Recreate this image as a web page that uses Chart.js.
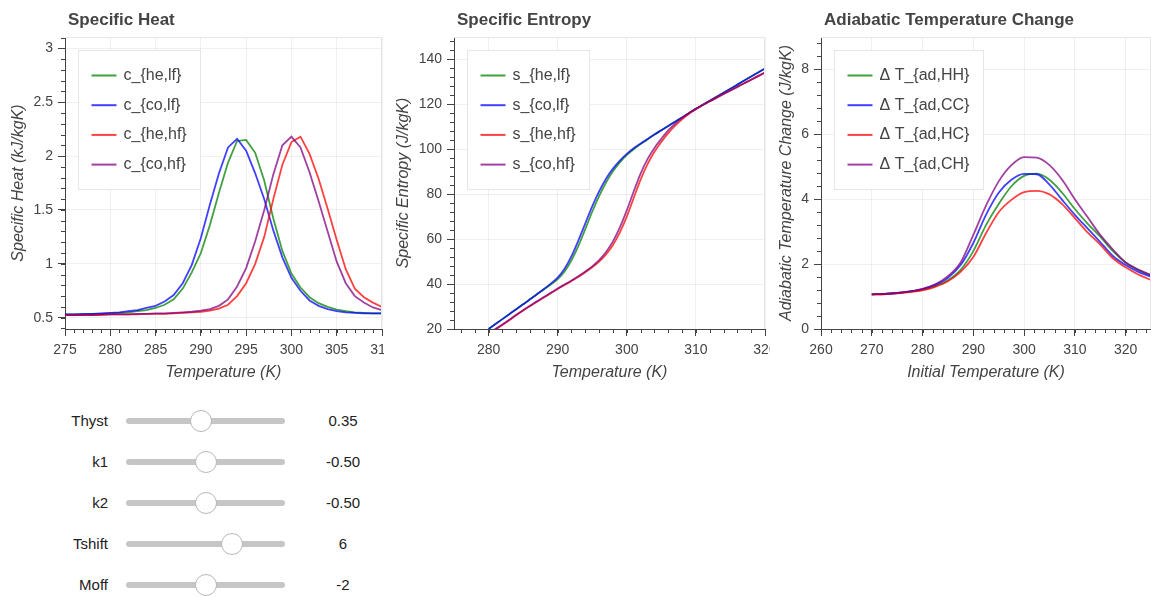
<!DOCTYPE html>
<html>
<head>
<meta charset="utf-8">
<script src="https://cdn.jsdelivr.net/npm/chart.js@4.4.1/dist/chart.umd.min.js"></script>
<style>
  body { margin: 0; background: #fff; font-family: "Liberation Sans", Arial, sans-serif; }
  #wrap { position: relative; width: 1151px; height: 597px; overflow: hidden; }
  canvas { position: absolute; top: 0; }
  .row { position: absolute; left: 0; width: 400px; height: 24px; }
  .row label { position: absolute; left: 0; width: 108px; top: 3px; text-align: right; font-size: 15px; color: #222; }
  .row span { position: absolute; left: 303px; width: 80px; top: 3px; text-align: center; font-size: 15px; color: #222; }
  .row input {
    position: absolute; left: 126px; top: 9px; width: 159px; height: 6px; margin: 0;
    -webkit-appearance: none; appearance: none; background: #c6c6c6; border-radius: 3px; outline: none;
  }
  .row input::-webkit-slider-thumb {
    -webkit-appearance: none; appearance: none; width: 22px; height: 22px; border-radius: 50%;
    background: #fff; border: 1px solid #b8b8b8; box-sizing: border-box;
  }
</style>
</head>
<body>
<div id="wrap">
  <canvas id="heat" width="384" height="390" style="left:0"></canvas>
  <canvas id="entropy" width="386" height="390" style="left:384px"></canvas>
  <canvas id="adiabatic" width="381" height="390" style="left:770px"></canvas>
  <div id="sliders"></div>
</div>
<script>
Chart.defaults.font.family = '"Liberation Sans", Arial, sans-serif';
Chart.defaults.color = '#444';

const lineColors = ['rgba(0,128,0,0.75)', 'rgba(0,0,255,0.75)', 'rgba(255,0,0,0.75)', 'rgba(128,0,128,0.75)'];

// ---- Specific heat (kJ/kgK) ----
const heatTemps = [275, 276, 277, 278, 279, 280, 281, 282, 283, 284, 285, 286, 287, 288, 289, 290, 291, 292,
                   293, 294, 295, 296, 297, 298, 299, 300, 301, 302, 303, 304, 305, 306, 307, 308, 309, 310];
const heatLabels = ['c_{he,lf}', 'c_{co,lf}', 'c_{he,hf}', 'c_{co,hf}'];
const cHeLf = [0.53, 0.53, 0.53, 0.535, 0.535, 0.54, 0.545, 0.55, 0.56, 0.57, 0.59, 0.62, 0.67, 0.77, 0.92, 1.10, 1.36, 1.66,
               1.94, 2.14, 2.15, 2.03, 1.77, 1.42, 1.12, 0.91, 0.78, 0.69, 0.635, 0.60, 0.575, 0.56, 0.55, 0.545, 0.54, 0.54];
const cCoLf = [0.53, 0.53, 0.535, 0.535, 0.54, 0.545, 0.55, 0.56, 0.57, 0.59, 0.61, 0.65, 0.71, 0.82, 0.99, 1.24, 1.55, 1.84,
               2.08, 2.16, 2.05, 1.84, 1.60, 1.31, 1.06, 0.87, 0.75, 0.66, 0.61, 0.58, 0.56, 0.55, 0.545, 0.54, 0.54, 0.54];
const cHeHf = [0.525, 0.525, 0.525, 0.525, 0.525, 0.53, 0.53, 0.53, 0.53, 0.535, 0.535, 0.535, 0.54, 0.545, 0.55, 0.555, 0.565, 0.585,
               0.62, 0.70, 0.82, 1.00, 1.25, 1.60, 1.92, 2.13, 2.18, 2.02, 1.79, 1.51, 1.22, 0.95, 0.77, 0.69, 0.64, 0.60];
const cCoHf = [0.525, 0.525, 0.525, 0.525, 0.53, 0.53, 0.53, 0.53, 0.535, 0.535, 0.54, 0.54, 0.545, 0.55, 0.555, 0.565, 0.58, 0.61,
               0.67, 0.79, 0.96, 1.21, 1.50, 1.83, 2.10, 2.18, 2.08, 1.85, 1.58, 1.30, 1.02, 0.82, 0.70, 0.64, 0.595, 0.57];
const heatXTicks = [275, 280, 285, 290, 295, 300, 305, 310];
const heatYTicks = [0.5, 1, 1.5, 2, 2.5, 3];

// ---- Specific entropy (J/kgK) ----
const entTemps = [280, 281, 282, 283, 284, 285, 286, 287, 288, 289, 290, 291, 292, 293, 294, 295, 296, 297, 298, 299, 300,
                  301, 302, 303, 304, 305, 306, 307, 308, 309, 310, 311, 312, 313, 314, 315, 316, 317, 318, 319, 320];
const entLabels = ['s_{he,lf}', 's_{co,lf}', 's_{he,hf}', 's_{co,hf}'];
const sHeLf = [20, 22.2, 24.4, 26.6, 28.8, 31, 33.2, 35.5, 37.6, 39.8, 42.2, 45.6, 50.6, 57, 64.5, 72.2, 79.2, 85.2, 90.2, 94.2, 97.4,
               100, 102.3, 104.4, 106.6, 108.5, 110.4, 112.3, 114.2, 116.1, 118, 119.8, 121.6, 123.4, 125.2, 127, 128.8, 130.6, 132.4, 134.2, 136];
const sCoLf = [20, 22.2, 24.4, 26.6, 28.8, 31, 33.2, 35.5, 37.8, 40.2, 42.9, 46.8, 52.4, 59.4, 67, 74.6, 81.3, 86.9, 91.4, 95, 98,
               100.5, 102.6, 104.6, 106.6, 108.5, 110.4, 112.3, 114.2, 116.1, 118, 119.8, 121.6, 123.4, 125.2, 127, 128.8, 130.6, 132.4, 134.2, 136];
const sHeHf = [17.8, 19.8, 21.8, 23.9, 26.1, 28.2, 30.2, 32.1, 34, 35.9, 37.8, 39.6, 41.4, 43.3, 45.3, 47.5, 50, 53.2, 57.4, 63, 70,
               78.3, 86.5, 93.4, 98.9, 103.3, 107.2, 110.5, 113.3, 115.8, 117.9, 119.7, 121.4, 123, 124.6, 126.2, 127.8, 129.4, 131, 132.6, 134.2];
const sCoHf = [18, 20, 22, 24.1, 26.3, 28.4, 30.4, 32.3, 34.2, 36.1, 38, 39.8, 41.6, 43.5, 45.6, 47.9, 50.7, 54.3, 59, 65.2, 72.8,
               81.2, 89.2, 95.6, 100.6, 104.7, 108.4, 111.4, 114, 116.2, 118, 119.7, 121.4, 123, 124.6, 126.2, 127.8, 129.4, 131, 132.6, 134.2];
const entXTicks = [280, 290, 300, 310, 320];
const entYTicks = [20, 40, 60, 80, 100, 120, 140];

// ---- Adiabatic temperature change ----
const adTemps = [270, 272.5, 275, 277.5, 280, 282.5, 285, 287.5, 290, 292.5, 295, 297.5, 300,
                 302.5, 305, 307.5, 310, 312.5, 315, 317.5, 320, 322.5, 325];
const adLabels = ['Δ T_{ad,HH}', 'Δ T_{ad,CC}', 'Δ T_{ad,HC}', 'Δ T_{ad,CH}'];
const dtHH = [1.07, 1.08, 1.11, 1.15, 1.21, 1.32, 1.50, 1.82, 2.40, 3.20, 3.85, 4.40, 4.72,
              4.79, 4.60, 4.20, 3.70, 3.25, 2.85, 2.40, 2.05, 1.82, 1.66];
const dtCC = [1.07, 1.08, 1.11, 1.16, 1.23, 1.36, 1.58, 1.97, 2.65, 3.52, 4.20, 4.60, 4.78,
              4.77, 4.45, 3.98, 3.52, 3.10, 2.68, 2.25, 1.97, 1.76, 1.61];
const dtHC = [1.06, 1.07, 1.10, 1.14, 1.19, 1.30, 1.47, 1.76, 2.22, 2.95, 3.60, 3.98, 4.22,
              4.26, 4.15, 3.85, 3.42, 2.98, 2.60, 2.18, 1.90, 1.68, 1.51];
const dtCH = [1.07, 1.08, 1.11, 1.16, 1.24, 1.38, 1.63, 2.05, 2.90, 3.80, 4.55, 5.05, 5.30,
              5.28, 5.05, 4.60, 4.00, 3.45, 2.90, 2.45, 2.05, 1.83, 1.66];
const adXTicks = [260, 270, 280, 290, 300, 310, 320];
const adYTicks = [0, 2, 4, 6, 8];

// ---- sliders ----
const sliderNames = ['Thyst', 'k1', 'k2', 'Tshift', 'Moff'];
const sliderValues = [0.35, -0.5, -0.5, 6, -2];
const sliderMins = [0, -1, -1, -3, -4];
const sliderMaxs = [0.75, 0, 0, 10, 0];
const sliderSteps = [0.01, 0.01, 0.01, 1, 1];
const sliderText = ['0.35', '-0.50', '-0.50', '6', '-2'];

const FONT = '"Liberation Sans", Arial, sans-serif';

// frame, minor ticks, panel title and an inset legend
const panelDecor = {
  id: 'panelDecor',
  afterDraw(chart, args, o) {
    const {ctx, chartArea: a} = chart;
    const xs = chart.scales.x, ys = chart.scales.y;
    ctx.save();
    ctx.lineWidth = 1;
    ctx.strokeStyle = '#e6e6e6';
    ctx.beginPath();
    ctx.moveTo(a.left, a.top + 0.5);
    ctx.lineTo(a.right - 0.5, a.top + 0.5);
    ctx.lineTo(a.right - 0.5, a.bottom);
    ctx.stroke();

    ctx.strokeStyle = '#444';
    ctx.beginPath();
    for (let v = Math.ceil(xs.min / o.xMinor - 1e-6) * o.xMinor; v <= xs.max + 1e-6; v += o.xMinor) {
      const px = Math.round(xs.getPixelForValue(v)) + 0.5;
      ctx.moveTo(px, a.bottom); ctx.lineTo(px, a.bottom + 4);
    }
    for (let v = Math.ceil(ys.min / o.yMinor - 1e-6) * o.yMinor; v <= ys.max + 1e-6; v += o.yMinor) {
      const py = Math.round(ys.getPixelForValue(v)) + 0.5;
      ctx.moveTo(a.left, py); ctx.lineTo(a.left - 4, py);
    }
    ctx.stroke();

    ctx.fillStyle = '#444';
    ctx.textBaseline = 'middle';
    ctx.textAlign = 'left';
    ctx.font = 'bold 17px ' + FONT;
    ctx.fillText(o.title, a.left + 3, 20);

    ctx.font = '16px ' + FONT;
    const sets = chart.data.datasets;
    const tw = Math.max(...sets.map(d => ctx.measureText(d.label).width));
    const bx = Math.round(a.left + 13) + 0.5, by = Math.round(a.top + 13) + 0.5;
    const bw = Math.round(13 + 25 + 7 + tw + 14), bh = 139;
    ctx.fillStyle = 'rgba(255,255,255,0.95)';
    ctx.fillRect(bx, by, bw, bh);
    ctx.strokeStyle = '#e6e6e6';
    ctx.strokeRect(bx, by, bw, bh);
    sets.forEach((d, i) => {
      const ly = by + 25 + i * 29.7;
      ctx.strokeStyle = d.borderColor;
      ctx.lineWidth = 2;
      ctx.beginPath(); ctx.moveTo(bx + 13, ly); ctx.lineTo(bx + 38, ly); ctx.stroke();
      ctx.fillStyle = '#444';
      ctx.fillText(d.label, bx + 45, ly);
    });
    ctx.restore();
  }
};

function xAxis(p) {
  return {
    type: 'linear', min: p.xMin, max: p.xMax,
    afterBuildTicks: s => { s.ticks = p.xTicks.map(v => ({value: v})); },
    afterFit: s => { s.height = 61; s.paddingLeft = 0; s.paddingRight = 0; },
    ticks: {color: '#444', font: {size: 14}, padding: 6, maxRotation: 0, autoSkip: false, callback: v => String(v)},
    grid: {color: 'rgba(0,0,0,0.06)', tickColor: '#444', tickLength: 7},
    border: {color: '#444', width: 1},
    title: {display: true, text: p.xTitle, color: '#444', font: {size: 16, style: 'italic'}, padding: {top: 0, bottom: 8}}
  };
}

function yAxis(p) {
  return {
    type: 'linear', min: p.yMin, max: p.yMax,
    afterBuildTicks: s => { s.ticks = p.yTicks.map(v => ({value: v})); },
    afterFit: s => { s.width = p.plotLeft; s.paddingTop = 0; s.paddingBottom = 0; },
    ticks: {color: '#444', font: {size: 14}, padding: 5, callback: v => String(v)},
    grid: {color: 'rgba(0,0,0,0.06)', tickColor: '#444', tickLength: 7},
    border: {color: '#444', width: 1},
    title: {display: true, text: p.yTitle, color: '#444', font: {size: 16, style: 'italic'}, padding: {top: p.yTitlePad, bottom: 0}}
  };
}

function makePanel(id, p) {
  const datasets = p.series.map((vals, i) => ({
    label: p.labels[i],
    data: p.temps.map((t, j) => ({x: t, y: vals[j]})),
    borderColor: lineColors[i],
    borderWidth: 1.8,
    pointRadius: 0,
    fill: false,
    tension: 0,
    cubicInterpolationMode: p.smooth ? 'monotone' : 'default',
    order: p.series.length - 1 - i
  }));
  return new Chart(document.getElementById(id), {
    type: 'line',
    data: {datasets},
    options: {
      responsive: false,
      animation: false,
      events: [],
      layout: {padding: {top: 37, right: p.padRight, left: 0, bottom: 0}},
      plugins: {
        legend: {display: false},
        tooltip: {enabled: false},
        panelDecor: {title: p.title, xMinor: p.xMinor, yMinor: p.yMinor}
      },
      scales: {x: xAxis(p), y: yAxis(p)}
    },
    plugins: [panelDecor]
  });
}

makePanel('heat', {
  title: 'Specific Heat', temps: heatTemps, labels: heatLabels,
  series: [cHeLf, cCoLf, cHeHf, cCoHf], smooth: false,
  xMin: 275, xMax: 310, yMin: 0.395, yMax: 3.105, xTicks: heatXTicks, yTicks: heatYTicks,
  xMinor: 1, yMinor: 0.1, plotLeft: 65, padRight: 2, yTitlePad: 9,
  xTitle: 'Temperature (K)', yTitle: 'Specific Heat (kJ/kgK)'
});

makePanel('entropy', {
  title: 'Specific Entropy', temps: entTemps, labels: entLabels,
  series: [sHeLf, sCoLf, sHeHf, sCoHf], smooth: true,
  xMin: 275, xMax: 320, yMin: 20, yMax: 150, xTicks: entXTicks, yTicks: entYTicks,
  xMinor: 2, yMinor: 4, plotLeft: 70, padRight: 5, yTitlePad: 10,
  xTitle: 'Temperature (K)', yTitle: 'Specific Entropy (J/kgK)'
});

makePanel('adiabatic', {
  title: 'Adiabatic Temperature Change', temps: adTemps, labels: adLabels,
  series: [dtHH, dtCC, dtHC, dtCH], smooth: true,
  xMin: 260, xMax: 325, yMin: 0, yMax: 9, xTicks: adXTicks, yTicks: adYTicks,
  xMinor: 2, yMinor: 0.4, plotLeft: 51, padRight: 0, yTitlePad: 7,
  xTitle: 'Initial Temperature (K)', yTitle: 'Adiabatic Temperature Change (J/kgK)'
});

const holder = document.getElementById('sliders');
sliderNames.forEach((name, i) => {
  const row = document.createElement('div');
  row.className = 'row';
  row.style.top = (409 + i * 41) + 'px';
  row.innerHTML = '<label>' + name + '</label><input type="range"><span>' + sliderText[i] + '</span>';
  const input = row.querySelector('input');
  input.min = sliderMins[i];
  input.max = sliderMaxs[i];
  input.step = sliderSteps[i];
  input.value = sliderValues[i];
  holder.appendChild(row);
});
</script>
</body>
</html>
